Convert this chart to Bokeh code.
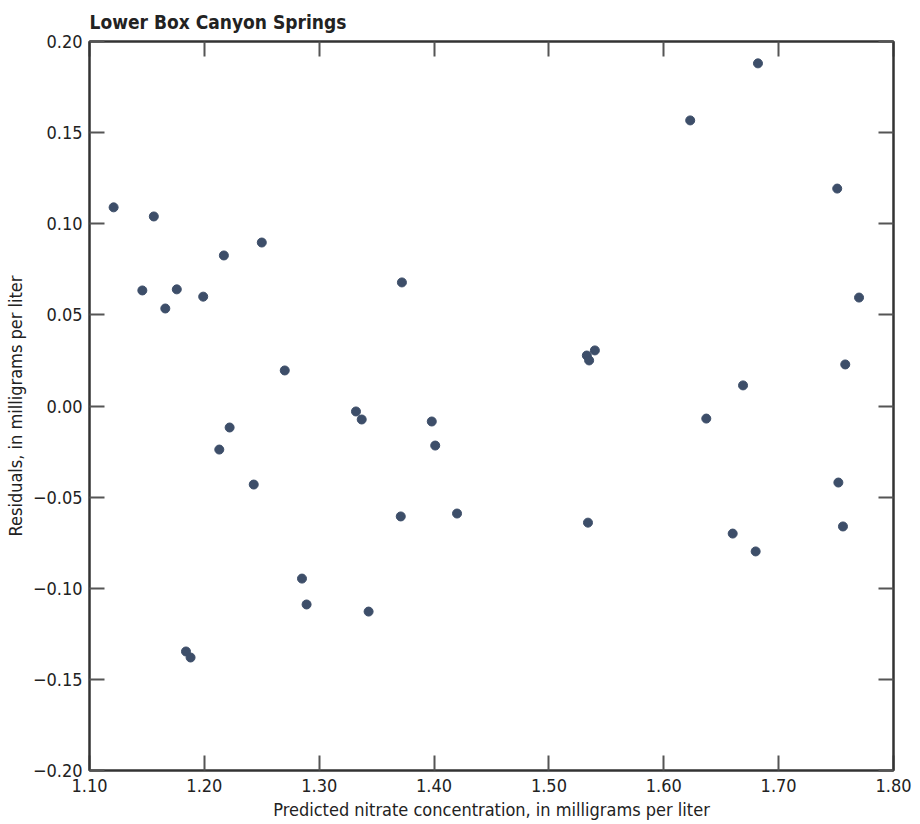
from bokeh.plotting import figure
from bokeh.models import Range1d, FixedTicker, CustomJSTickFormatter, LinearAxis
from bokeh.embed import file_html
from bokeh.resources import INLINE

title_text = "Lower Box Canyon Springs"
x_label = "Predicted nitrate concentration, in milligrams per liter"
y_label = "Residuals, in milligrams per liter"

predicted = [1.121, 1.156, 1.146, 1.176, 1.166, 1.199, 1.217, 1.250, 1.222, 1.213,
             1.243, 1.270, 1.184, 1.188, 1.285, 1.289, 1.332, 1.337, 1.343, 1.372,
             1.371, 1.398, 1.401, 1.420, 1.533, 1.535, 1.540, 1.534, 1.623, 1.682,
             1.637, 1.669, 1.660, 1.680, 1.751, 1.770, 1.758, 1.752, 1.756]
residuals = [0.109, 0.104, 0.0634, 0.064, 0.0535, 0.060, 0.0826, 0.0897, -0.0118, -0.0239,
             -0.0431, 0.0195, -0.1347, -0.138, -0.0947, -0.1089, -0.003, -0.0074, -0.1128, 0.0678,
             -0.0606, -0.0085, -0.0217, -0.059, 0.0277, 0.025, 0.0305, -0.064, 0.1567, 0.188,
             -0.0069, 0.0113, -0.070, -0.0798, 0.1193, 0.0595, 0.0228, -0.042, -0.0661]

x_ticks = [1.10, 1.20, 1.30, 1.40, 1.50, 1.60, 1.70, 1.80]
y_ticks = [-0.20, -0.15, -0.10, -0.05, 0.00, 0.05, 0.10, 0.15, 0.20]

FONT = "'DejaVu Sans Condensed', 'Liberation Sans', sans-serif"
AX = "#333333"
TICK = "#555555"

p = figure(width=920, height=824, frame_width=804, frame_height=729,
           output_backend="svg", toolbar_location=None,
           x_range=Range1d(1.10, 1.80), y_range=Range1d(-0.20, 0.20),
           x_axis_location=None, y_axis_location=None,
           min_border_left=89, min_border_right=27, min_border_top=41, min_border_bottom=54)
p.grid.visible = False
p.outline_line_color = AX
p.outline_line_width = 2
p.background_fill_color = "white"
p.border_fill_color = "white"

p.title.text = title_text
p.title.align = "left"
p.title.text_font = FONT
p.title.text_font_size = "19px"
p.title.text_font_style = "bold"
p.title.text_color = "#222222"
p.title.standoff = 17
p.title.offset = 0

fmt = CustomJSTickFormatter(code="return (tick < -1e-9 ? '\u2212' : '') + Math.abs(tick).toFixed(2);")

def style(ax, labels=True):
    ax.major_tick_in = 15
    ax.major_tick_out = 0
    ax.minor_tick_in = 0
    ax.minor_tick_out = 0
    ax.major_tick_line_color = TICK
    ax.major_tick_line_width = 2
    ax.axis_line_color = AX
    ax.axis_line_width = 2
    if labels:
        ax.formatter = fmt
        ax.major_label_text_font = FONT
        ax.major_label_text_font_size = "18px"
        ax.major_label_text_color = "#222222"
        ax.axis_label_text_font = FONT
        ax.axis_label_text_font_size = "18px"
        ax.axis_label_text_font_style = "normal"
        ax.axis_label_text_color = "#222222"
    else:
        ax.major_label_text_font_size = "0px"
        ax.major_label_text_alpha = 0
        ax.major_label_standoff = 0

bottom = LinearAxis(ticker=FixedTicker(ticks=x_ticks), axis_label=x_label)
style(bottom)
bottom.major_label_standoff = 8
bottom.axis_label_standoff = 4
p.add_layout(bottom, "below")

left = LinearAxis(ticker=FixedTicker(ticks=y_ticks), axis_label=y_label)
style(left)
left.major_label_standoff = 7
left.axis_label_standoff = 4
p.add_layout(left, "left")

top = LinearAxis(ticker=FixedTicker(ticks=x_ticks))
style(top, labels=False)
p.add_layout(top, "above")

right = LinearAxis(ticker=FixedTicker(ticks=y_ticks))
style(right, labels=False)
p.add_layout(right, "right")

p.scatter(predicted, residuals, size=9, fill_color="#3d4e69", line_color="#3d4e69")

open("out.html", "w").write(file_html(p, INLINE))
